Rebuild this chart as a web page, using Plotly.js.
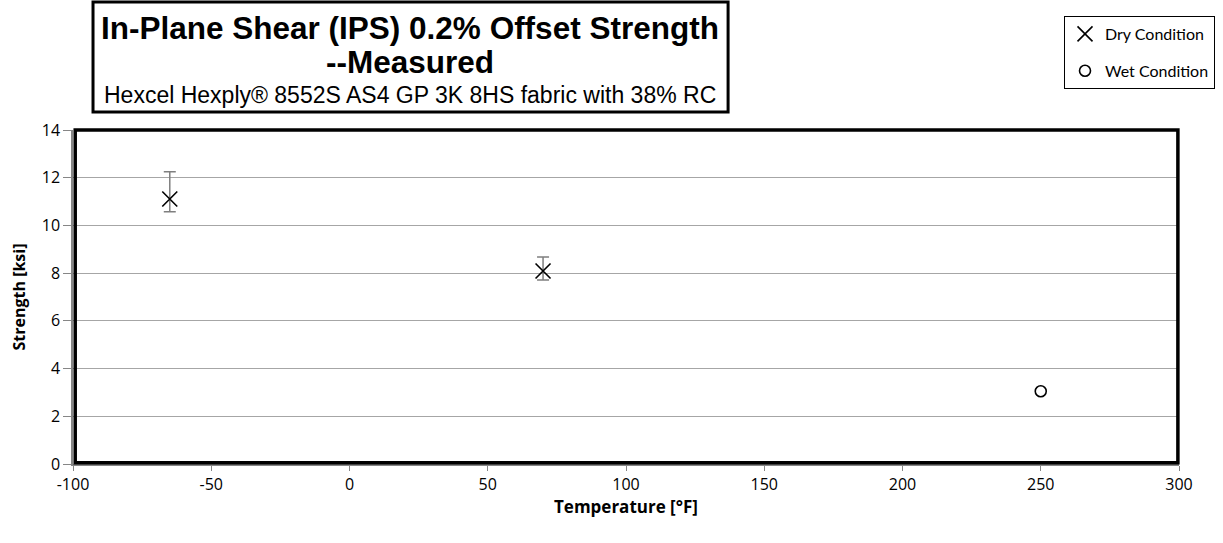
<!DOCTYPE html>
<html>
<head>
<meta charset="utf-8">
<script src="https://cdn.plot.ly/plotly-3.0.1.min.js"></script>
<style>
  html, body { margin: 0; padding: 0; background: #ffffff; }
  #chart { width: 1223px; height: 543px; }
</style>
</head>
<body>
<div id="chart"></div>
<script>
// In-plane shear 0.2% offset strength vs. test temperature
const dryTemp = [-65, 70];
const dryStrength = [11.11, 8.09];
const dryErrPlus = [1.14, 0.59];
const dryErrMinus = [0.54, 0.38];

const wetTemp = [250];
const wetStrength = [3.05];

const xTicks = [-100, -50, 0, 50, 100, 150, 200, 250, 300];
const yTicks = [0, 2, 4, 6, 8, 10, 12, 14];

const titleLine1 = 'In-Plane Shear (IPS) 0.2% Offset Strength';
const titleLine2 = '--Measured';
const subtitle = 'Hexcel Hexply® 8552S AS4 GP 3K 8HS fabric with 38% RC';

const tickFont = { family: 'Open Sans, Lato, sans-serif', size: 16, color: '#000000' };
const axisTitleFont = { family: 'Open Sans, Lato, sans-serif', size: 16, color: '#000000', weight: 'bold' };
const titleFontFamily = "'Liberation Sans', Arial, sans-serif";

const traces = [
  {
    name: 'Dry Condition',
    x: dryTemp,
    y: dryStrength,
    type: 'scatter',
    mode: 'markers',
    legendgroup: 'dry',
    marker: { symbol: 'x-thin-open', size: 15, color: '#000000', line: { width: 1.6, color: '#000000' } },
    error_y: {
      type: 'data',
      symmetric: false,
      array: dryErrPlus,
      arrayminus: dryErrMinus,
      color: '#7f7f7f',
      thickness: 1.5,
      width: 6
    }
  },
  {
    name: 'Wet Condition',
    x: wetTemp,
    y: wetStrength,
    type: 'scatter',
    mode: 'markers',
    legendgroup: 'wet',
    marker: { symbol: 'circle-open', size: 11, color: '#000000', line: { width: 1.6, color: '#000000' } }
  }
];

const layout = {
  width: 1223,
  height: 543,
  paper_bgcolor: '#ffffff',
  plot_bgcolor: '#ffffff',
  margin: { l: 73, r: 44, t: 130, b: 79, autoexpand: false },
  showlegend: true,
  legend: {
    xref: 'container', yref: 'container',
    x: 0.870, y: 0.9705, xanchor: 'left', yanchor: 'top',
    bordercolor: '#000000', borderwidth: 1,
    bgcolor: '#ffffff',
    font: { family: 'Lato, Open Sans, sans-serif', size: 16, color: '#000000' },
    traceorder: 'grouped',
    tracegroupgap: 13,
    itemwidth: 30
  },
  xaxis: {
    range: [-100, 300],
    tickvals: xTicks,
    ticktext: xTicks.map(String),
    showgrid: false,
    zeroline: false,
    showline: true,
    linecolor: '#868686',
    linewidth: 1.5,
    ticks: 'outside',
    ticklen: 5,
    tickcolor: '#868686',
    tickfont: tickFont,
    title: { text: 'Temperature [°F]', font: Object.assign({}, axisTitleFont, { size: 17 }), standoff: 0 }
  },
  yaxis: {
    range: [0, 14],
    tickvals: yTicks,
    ticktext: yTicks.map(String),
    showgrid: true,
    gridcolor: '#a6a6a6',
    gridwidth: 1,
    zeroline: false,
    showline: true,
    linecolor: '#868686',
    linewidth: 1.5,
    ticks: 'outside',
    ticklen: 8,
    tickcolor: '#868686',
    tickfont: tickFont,
    title: { text: 'Strength [ksi]', font: axisTitleFont, standoff: 12 }
  },
  shapes: [
    // heavy frame around the plotting area
    {
      type: 'rect', xref: 'paper', yref: 'paper',
      x0: 0.002, x1: 0.999, y0: 0.004, y1: 1.0,
      line: { color: '#000000', width: 3.5 },
      fillcolor: 'rgba(0,0,0,0)', layer: 'above'
    },
    // boxed title block
    {
      type: 'rect', xref: 'paper', yref: 'paper',
      x0: 0.0181, x1: 0.5923, y0: 1.054, y1: 1.383,
      line: { color: '#000000', width: 3 },
      fillcolor: '#ffffff', layer: 'above'
    }
  ],
  annotations: [
    {
      xref: 'paper', yref: 'paper', x: 0.3047, y: 1.305,
      xanchor: 'center', yanchor: 'middle', showarrow: false,
      text: '<b>' + titleLine1 + '</b>',
      font: { family: titleFontFamily, size: 31.5, color: '#000000' }
    },
    {
      xref: 'paper', yref: 'paper', x: 0.3047, y: 1.204,
      xanchor: 'center', yanchor: 'middle', showarrow: false,
      text: '<b>' + titleLine2 + '</b>',
      font: { family: titleFontFamily, size: 31.5, color: '#000000' }
    },
    {
      xref: 'paper', yref: 'paper', x: 0.3047, y: 1.104,
      xanchor: 'center', yanchor: 'middle', showarrow: false,
      text: subtitle,
      font: { family: titleFontFamily, size: 23, color: '#000000' }
    }
  ]
};

Plotly.newPlot('chart', traces, layout, { displayModeBar: false, responsive: false });
</script>
</body>
</html>
